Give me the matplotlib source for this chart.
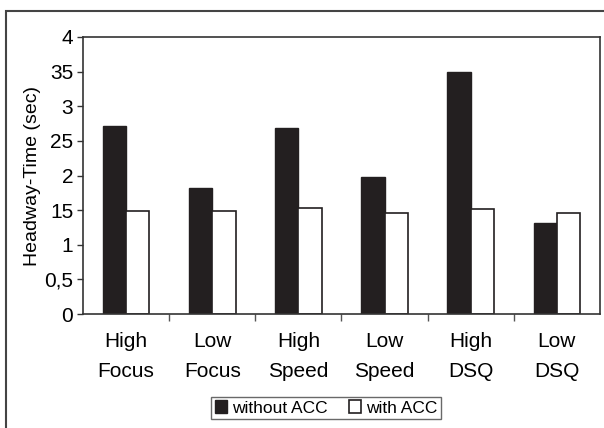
import matplotlib.pyplot as plt
import numpy as np
from matplotlib.patches import Rectangle

plt.rcParams['font.family'] = ['Liberation Sans', 'DejaVu Sans']

# Headway time per condition
categories = ["High\nFocus", "Low\nFocus", "High\nSpeed", "Low\nSpeed", "High\nDSQ", "Low\nDSQ"]
without_acc = [2.72, 1.82, 2.68, 1.98, 3.49, 1.31]
with_acc = [1.49, 1.49, 1.535, 1.46, 1.51, 1.455]
ytick_vals = [0, 0.5, 1, 1.5, 2, 2.5, 3, 3.5, 4]
ytick_labels = ["0", "0,5", "1", "15", "2", "25", "3", "35", "4"]

fig = plt.figure(figsize=(6.04, 4.28), dpi=100)
W, H = 604, 428
ax = fig.add_axes([83 / W, 1 - 314 / H, (600 - 83) / W, (314 - 37) / H])

x = np.arange(len(categories))
w = 0.27
ax.bar(x - w / 2, without_acc, w, color="#231f20", edgecolor="#231f20",
       linewidth=1, label="without ACC")
ax.bar(x + w / 2, with_acc, w, color="white", edgecolor="#231f20",
       linewidth=1.2, label="with ACC")

ax.set_xlim(-0.5, len(categories) - 0.5)
ax.set_ylim(0, 4)
ax.set_yticks(ytick_vals)
ax.set_yticklabels(ytick_labels, fontsize=15)
ax.set_xticks(x)
ax.set_xticklabels(categories, fontsize=15, linespacing=1.7)
ax.tick_params(axis="x", length=0, pad=13)
ax.tick_params(axis="y", length=4, width=1, color="#333333", pad=3)
# category separators below the axis
ax.set_xticks(x[:-1] + 0.5, minor=True)
ax.tick_params(axis="x", which="minor", length=5, width=1, color="#555555",
               direction="out")
for s in ax.spines.values():
    s.set_linewidth(1.2)
    s.set_color("#333333")
ax.set_ylabel("Headway-Time (sec)", fontsize=14, labelpad=2)

leg = ax.legend(loc="upper center", bbox_to_anchor=(0.5 * (212 + 440) / W, 1 - 397 / H),
                bbox_transform=fig.transFigure, ncol=2, frameon=True, fancybox=False,
                fontsize=12.5, handlelength=0.7, handleheight=0.7, handletextpad=0.3,
                columnspacing=1.2, borderpad=0.2, borderaxespad=0)
leg.get_frame().set_edgecolor("#444444")
leg.get_frame().set_linewidth(1)

# outer chart frame
fig.patches.append(Rectangle((6 / W, -0.1), 1.2, 1 - 11 / H + 0.1,
                             transform=fig.transFigure, fill=False,
                             edgecolor="#444444", linewidth=1.5))

fig.savefig("out.png", dpi=100)
